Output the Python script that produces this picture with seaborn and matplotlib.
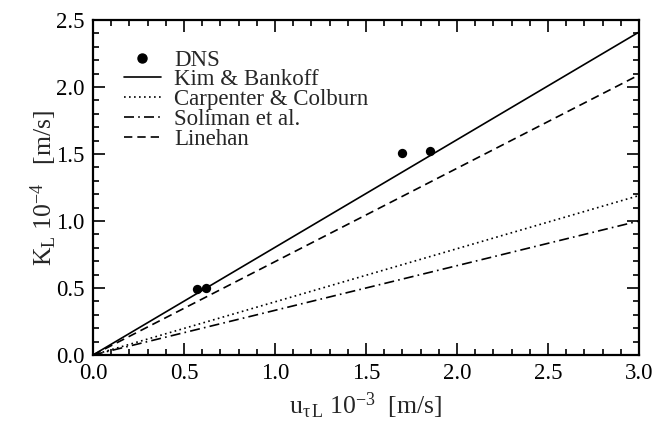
import numpy as np
import pandas as pd
import matplotlib
matplotlib.use("Agg")
import matplotlib.pyplot as plt
import seaborn as sns
from matplotlib.ticker import MultipleLocator, FormatStrFormatter
from matplotlib.lines import Line2D

sns.set_theme(style="ticks")
plt.rcParams['font.family'] = ['Liberation Serif', 'DejaVu Serif']
plt.rcParams['mathtext.fontset'] = 'custom'
plt.rcParams['mathtext.rm'] = 'Liberation Serif'
plt.rcParams['mathtext.it'] = 'Liberation Serif:italic'

# Data
dns_u = [0.57, 0.62, 1.70, 1.85]
dns_k = [0.49, 0.50, 1.51, 1.52]

line_u = [0.0, 3.0]
kim_bankoff = [0.0, 2.41]
carpenter_colburn = [0.0, 1.19]
soliman = [0.0, 1.00]
linehan = [0.0, 2.09]

labels = ["DNS", "Kim & Bankoff", "Carpenter & Colburn", "Soliman et al.", "Linehan"]

fig = plt.figure(figsize=(6.65, 4.21), dpi=100)
ax = fig.add_axes([93/665, 1-355/421, (639-93)/665, (355-20)/421])

styles = [("Kim & Bankoff", kim_bankoff, "-"),
          ("Carpenter & Colburn", carpenter_colburn, (0, (1, 2))),
          ("Soliman et al.", soliman, (0, (6, 2.5, 1, 2.5))),
          ("Linehan", linehan, (0, (5, 3)))]

handles = [Line2D([], [], marker='o', color='black', linestyle='none', markersize=6.5)]
for name, vals, ls in styles:
    df = pd.DataFrame({"u": line_u, "k": vals})
    sns.lineplot(data=df, x="u", y="k", ax=ax, color="black", linewidth=1.2,
                 linestyle=ls, legend=False)
    handles.append(Line2D([], [], color="black", linewidth=1.2, linestyle=ls))

sns.scatterplot(x=dns_u, y=dns_k, ax=ax, color="black", s=45, edgecolor="black",
                linewidth=0, zorder=5, legend=False)

ax.set_xlim(0, 3.0)
ax.set_ylim(0, 2.5)
ax.xaxis.set_major_locator(MultipleLocator(0.5))
ax.xaxis.set_minor_locator(MultipleLocator(0.1))
ax.yaxis.set_major_locator(MultipleLocator(0.5))
ax.yaxis.set_minor_locator(MultipleLocator(0.1))
ax.xaxis.set_major_formatter(FormatStrFormatter('%.1f'))
ax.yaxis.set_major_formatter(FormatStrFormatter('%.1f'))
ax.tick_params(which='both', direction='in', top=True, right=True, width=1.2,
               labelsize=16.5, colors='black')
ax.tick_params(which='major', length=8.5, pad=6)
ax.tick_params(which='minor', length=4.5)
for sp in ax.spines.values():
    sp.set_linewidth(1.6)
    sp.set_color('black')

ax.set_xlabel(r'$\mathregular{u_{\tau\,L}\ 10^{-3}}$  [m/s]', fontsize=18.5)
ax.set_ylabel(r'$\mathregular{K_L\ 10^{-4}}$   [m/s]', fontsize=18.5)
ax.xaxis.set_label_coords(0.5, -0.106)
ax.yaxis.set_label_coords(-0.063, 0.5)

ax.legend(handles, labels, loc='upper left', bbox_to_anchor=((124-93)/546, 0.912),
          frameon=False, fontsize=16.5, handlelength=1.6, handletextpad=0.6,
          labelspacing=-0.05, borderpad=0, borderaxespad=0)

fig.savefig("out.png", dpi=100)
